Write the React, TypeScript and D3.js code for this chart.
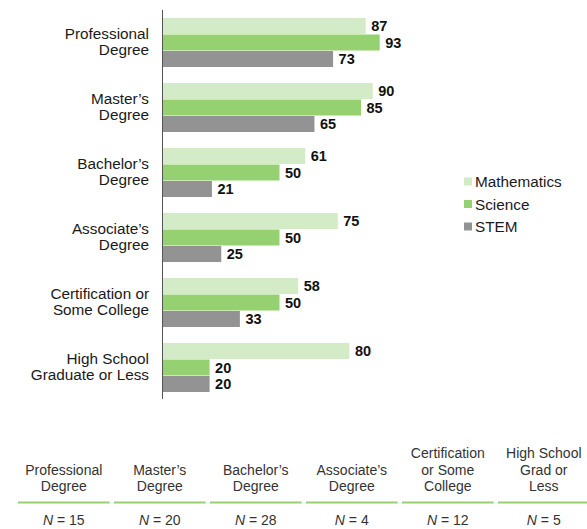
import { useEffect, useRef } from 'react';
import * as d3 from 'd3';

const categories = ['Professional Degree', 'Master’s Degree', 'Bachelor’s Degree', 'Associate’s Degree', 'Certification or Some College', 'High School Graduate or Less'];
const categoryLines = [['Professional', 'Degree'], ['Master’s', 'Degree'], ['Bachelor’s', 'Degree'], ['Associate’s', 'Degree'], ['Certification or', 'Some College'], ['High School', 'Graduate or Less']];
const seriesNames = ['Mathematics', 'Science', 'STEM'];
const mathematics = [87, 90, 61, 75, 58, 80];
const science = [93, 85, 50, 50, 50, 20];
const stem = [73, 65, 21, 25, 33, 20];
const tableHeaders = [['Professional', 'Degree'], ['Master’s', 'Degree'], ['Bachelor’s', 'Degree'], ['Associate’s', 'Degree'], ['Certification', 'or Some', 'College'], ['High School', 'Grad or', 'Less']];
const sampleSizes = [15, 20, 28, 4, 12, 5];
const colors = ['#d4ebc8', '#95d170', '#939393'];

const FONT = '"Liberation Sans", Arial, sans-serif';

function App() {
  const svgRef = useRef<SVGSVGElement>(null);

  useEffect(() => {
    const svg = d3.select(svgRef.current);
    svg.selectAll('*').remove();

    const values = [mathematics, science, stem];

    const y = d3.scaleBand<string>()
      .domain(categories)
      .range([10, 400])
      .paddingInner(0.246)
      .paddingOuter(0.123);

    const ySub = d3.scaleBand<string>()
      .domain(seriesNames)
      .range([0, y.bandwidth()])
      .paddingInner(0.03);

    const x = d3.scaleLinear().domain([0, 100]).range([163, 396]);

    // bars
    const groups = svg.selectAll('.grp')
      .data(categories)
      .enter()
      .append('g')
      .attr('transform', d => `translate(0,${y(d)})`);

    groups.each(function (cat, ci) {
      const g = d3.select(this);
      seriesNames.forEach((s, si) => {
        const v = values[si][ci];
        g.append('rect')
          .attr('x', x(0))
          .attr('y', ySub(s)!)
          .attr('width', x(v) - x(0))
          .attr('height', ySub.bandwidth())
          .attr('fill', colors[si]);
        g.append('text')
          .attr('x', x(v) + 5.5)
          .attr('y', ySub(s)! + ySub.bandwidth() / 2)
          .attr('dy', '0.36em')
          .attr('font-family', FONT)
          .attr('font-size', 14.5)
          .attr('font-weight', 'bold')
          .attr('fill', '#111')
          .text(v);
      });
      const lines = categoryLines[ci];
      const cy = y.bandwidth() / 2;
      lines.forEach((ln, li) => {
        g.append('text')
          .attr('x', 149)
          .attr('y', cy - 3.5 + li * 16)
          .attr('text-anchor', 'end')
          .attr('font-family', FONT)
          .attr('font-size', 15.3)
          .attr('fill', '#1a1a1a')
          .text(ln);
      });
    });

    // axis line
    svg.append('line')
      .attr('x1', x(0) - 0.5)
      .attr('x2', x(0) - 0.5)
      .attr('y1', 10)
      .attr('y2', 399)
      .attr('stroke', '#555')
      .attr('stroke-width', 1);

    // legend
    const legend = svg.append('g').attr('transform', 'translate(464,181.5)');
    seriesNames.forEach((s, i) => {
      legend.append('rect')
        .attr('x', 0)
        .attr('y', i * 22.5 - 4)
        .attr('width', 8)
        .attr('height', 8)
        .attr('fill', colors[i]);
      legend.append('text')
        .attr('x', 11)
        .attr('y', i * 22.5)
        .attr('dy', '0.36em')
        .attr('font-family', FONT)
        .attr('font-size', 15.3)
        .attr('fill', '#1a1a1a')
        .text(s);
    });

    // sample size table
    const xt = d3.scaleBand<string>()
      .domain(categories)
      .range([15.8, 591.8])
      .paddingInner(0.045)
      .paddingOuter(0.0225);

    const cols = svg.selectAll('.col')
      .data(categories)
      .enter()
      .append('g')
      .attr('transform', d => `translate(${xt(d)},0)`);

    cols.each(function (cat, ci) {
      const g = d3.select(this);
      const cx = xt.bandwidth() / 2;
      const lines = tableHeaders[ci];
      lines.forEach((ln, li) => {
        g.append('text')
          .attr('x', cx)
          .attr('y', 491 - (lines.length - 1 - li) * 16.5)
          .attr('text-anchor', 'middle')
          .attr('font-family', FONT)
          .attr('font-size', 14)
          .attr('fill', '#333')
          .text(ln);
      });
      g.append('line')
        .attr('x1', 0)
        .attr('x2', xt.bandwidth())
        .attr('y1', 502.5)
        .attr('y2', 502.5)
        .attr('stroke', '#95d170')
        .attr('stroke-width', 2);
      const t = g.append('text')
        .attr('x', cx)
        .attr('y', 525)
        .attr('text-anchor', 'middle')
        .attr('font-family', FONT)
        .attr('font-size', 14)
        .attr('fill', '#333');
      t.append('tspan').attr('font-style', 'italic').text('N');
      t.append('tspan').text(` = ${sampleSizes[ci]}`);
    });
  }, []);

  return (
    <svg
      ref={svgRef}
      width={587}
      height={529}
      style={{ position: 'absolute', left: 0, top: 0, background: '#fff' }}
    />
  );
}

export default App;
